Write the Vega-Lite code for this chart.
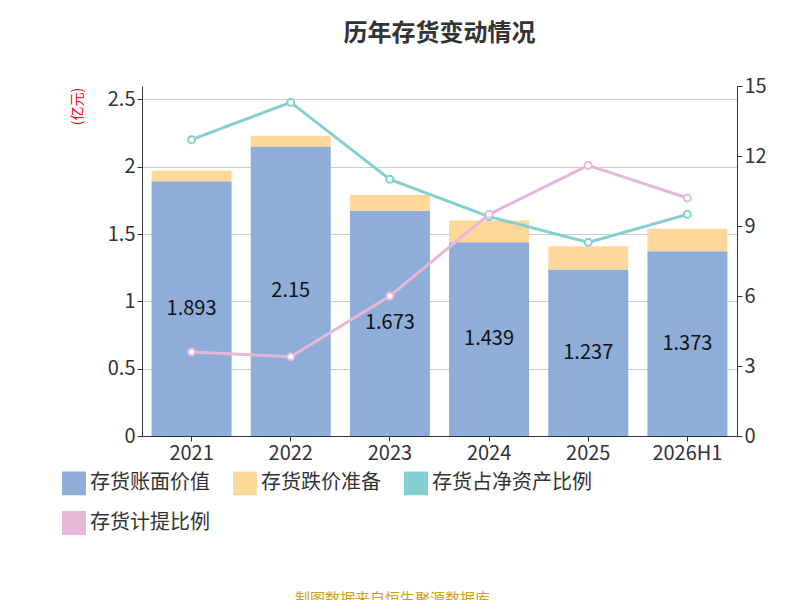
{
"$schema":"https://vega.github.io/schema/vega-lite/v6.json",
"width":595,"height":350,
"padding":{"left":62,"top":22,"right":5,"bottom":5},
"config":{"font":"Noto Sans CJK SC","view":{"stroke":null},"axis":{"labelFontSize":20,"labelColor":"#333","grid":false,"domainColor":"#333","tickColor":"#333"}},
"title":{"text":"历年存货变动情况","fontSize":24,"fontWeight":"bold","color":"#333","offset":30},
"data":{"values":[
{"year":"2021","book":1.893,"reserve":0.077,"r1":12.7,"r2":3.6},
{"year":"2022","book":2.15,"reserve":0.08,"r1":14.3,"r2":3.4},
{"year":"2023","book":1.673,"reserve":0.117,"r1":11.0,"r2":6.0},
{"year":"2024","book":1.439,"reserve":0.161,"r1":9.4,"r2":9.5},
{"year":"2025","book":1.237,"reserve":0.173,"r1":8.3,"r2":11.6},
{"year":"2026H1","book":1.373,"reserve":0.167,"r1":9.5,"r2":10.2}
]},
"encoding":{"x":{"field":"year","type":"nominal","sort":null,"title":"制图数据来自恒生聚源数据库","axis":{"labelAngle":0,"labelPadding":2,"ticks":true,"titleColor":"#d4a017","titleFontSize":15,"titleFontWeight":"normal","titleY":155,"titleX":250}}},
"layer":[
{"layer":[
{"transform":[{"fold":["book","reserve"],"as":["k","v"]},{"calculate":"datum.k=='book'?'存货账面价值':'存货跌价准备'","as":"series"}],
"mark":{"type":"bar","width":80},
"encoding":{"y":{"field":"v","type":"quantitative","stack":"zero","scale":{"domain":[0,2.5]},"axis":{"values":[0,0.5,1,1.5,2,2.5],"grid":true,"gridColor":"#ccc","title":"(亿元)","titleColor":"red","titleFontSize":14,"titleFontWeight":"normal","titleAngle":-90,"titleX":-58,"titleY":20,"labelExpr":"format(datum.value,'')"}},
"color":{"field":"series","type":"nominal","scale":{"domain":["存货账面价值","存货跌价准备","存货占净资产比例","存货计提比例"],"range":["#8eadd9","#fdd898","#84d0d0","#e6b8d8"]},"legend":{"orient":"none","legendX":-80,"legendY":385,"direction":"horizontal","columns":3,"labelFontSize":20,"labelColor":"#333","symbolSize":500,"symbolType":"square","title":null,"columnPadding":20,"rowPadding":10,"labelLimit":300}},
"order":{"field":"series","sort":"ascending"}}},
{"transform":[{"calculate":"datum.book/2","as":"mid"}],"mark":{"type":"text","fontSize":20,"color":"#111"},
"encoding":{"y":{"field":"mid","type":"quantitative"},"text":{"field":"book"}}}
]},
{"transform":[{"fold":["r1","r2"],"as":["k","v"]},{"calculate":"datum.k=='r1'?'存货占净资产比例':'存货计提比例'","as":"series"}],
"mark":{"type":"line","strokeWidth":3,"point":{"filled":false,"fill":"white","size":50,"strokeWidth":2}},
"encoding":{"y":{"field":"v","type":"quantitative","scale":{"domain":[0,15]},"axis":{"orient":"right","values":[0,3,6,9,12,15],"title":"%","titleColor":"red","titleFontSize":13,"titleAngle":0,"titleX":72,"titleY":5}},
"color":{"field":"series","type":"nominal","legend":null},"detail":{"field":"series"}}}
],
"resolve":{"scale":{"y":"independent"}}
}
